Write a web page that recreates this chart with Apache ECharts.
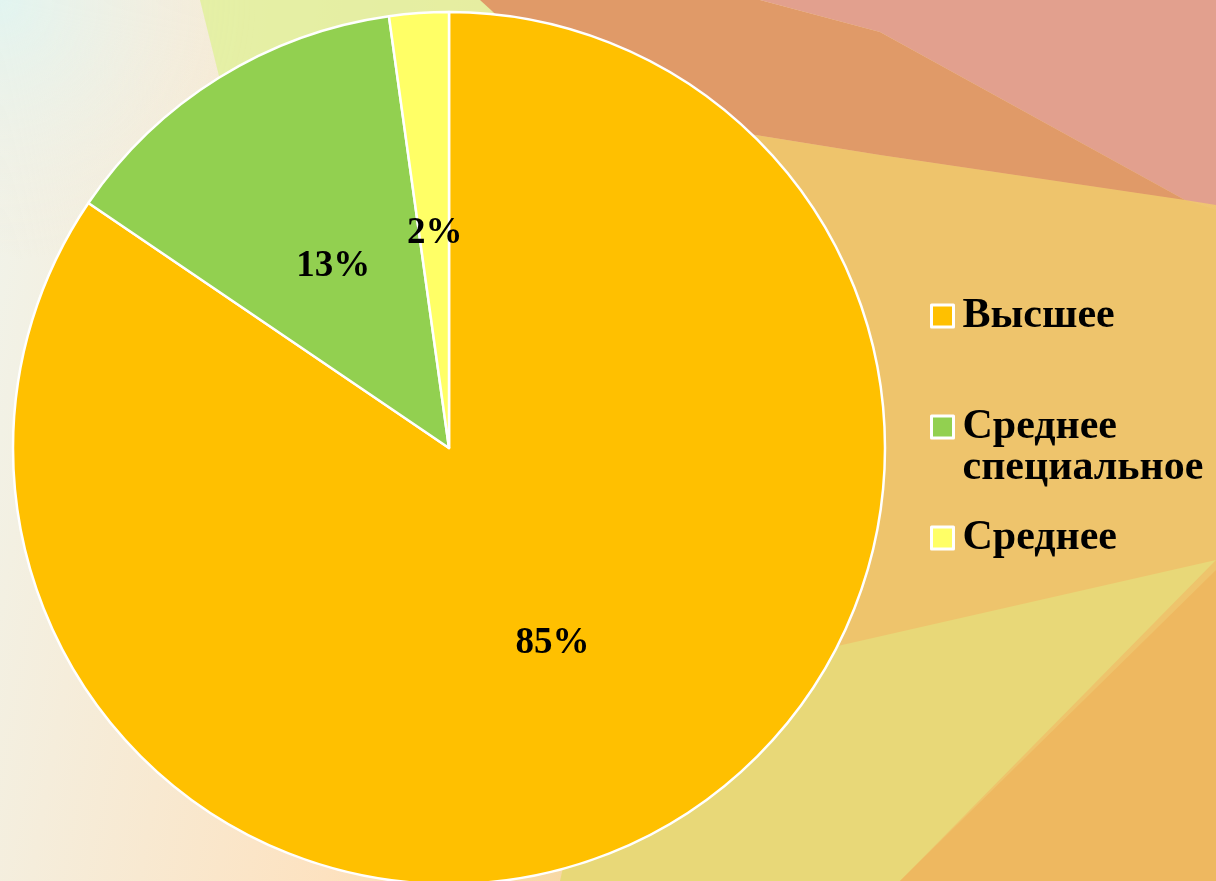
<!DOCTYPE html>
<html>
<head>
<meta charset="utf-8">
<script src="https://cdn.jsdelivr.net/npm/echarts@6/dist/echarts.min.js"></script>
<style>
  html, body { margin: 0; padding: 0; }
  body {
    width: 1216px; height: 881px; overflow: hidden;
    background: linear-gradient(100deg, #f0f4ec 0%, #fde2c0 35%, #f2cf88 70%, #eec068 100%);
  }
  #chart { width: 1216px; height: 881px; }
</style>
</head>
<body>
<div id="chart"></div>
<script>
// уровень образования
var categories = ["Высшее", "Среднее специальное", "Среднее"];
var shares = [84.5, 13.3, 2.2];
var slice_colors = ["#FFC000", "#92D050", "#FFFF66"];

var chart = echarts.init(document.getElementById("chart"));

var pie_data = [];
for (var i = 0; i < categories.length; i++) {
    pie_data.push({
        name: categories[i],
        value: shares[i],
        itemStyle: { color: slice_colors[i] },
        //small slices: labels sit a little lower in the original
        label: { offset: i > 0 ? [1, 6] : [0, 0] }
    });
}

var option = {
    animation: false,
    backgroundColor: "transparent",
    //background shapes of the slide
    graphic: [
        { type: "rect", z: -10, shape: { x: 0, y: 0, width: 420, height: 260 },
          style: { fill: new echarts.graphic.RadialGradient(0, 0, 1, [
              { offset: 0, color: "rgba(225,244,240,1)" },
              { offset: 1, color: "rgba(245,236,220,0)" }]) } },
        { type: "polygon", z: -9, shape: { points: [[200, 0], [560, 0], [470, 60], [230, 120]] },
          style: { fill: "#e0f098", opacity: 0.8 } },
        { type: "polygon", z: -9, shape: { points: [[600, 110], [880, 155], [1185, 200], [1216, 210], [1216, 881], [600, 881]] },
          style: { fill: "#eec46c" } },
        { type: "polygon", z: -8, shape: { points: [[480, 0], [760, 0], [880, 32], [1185, 200], [880, 155], [600, 110]] },
          style: { fill: "#e09a68" } },
        { type: "polygon", z: -7, shape: { points: [[760, 0], [1216, 0], [1216, 205], [1185, 200], [880, 32]] },
          style: { fill: "#e2a08e" } },
        { type: "polygon", z: -7, shape: { points: [[600, 700], [1216, 560], [900, 881], [560, 881]] },
          style: { fill: "#e8d878" } },
        { type: "polygon", z: -6, shape: { points: [[1216, 570], [1216, 881], [900, 881]] },
          style: { fill: "#eeb860" } }
    ],
    legend: {
        orient: "vertical",
        left: 925,
        top: 290,
        itemGap: 28,
        itemWidth: 22,
        itemHeight: 22,
        icon: "rect",
        selectedMode: false,
        itemStyle: { borderColor: "#ffffff", borderWidth: 3 },
        //the two-line item gets a blank first line so its icon sits on "Среднее"
        formatter: function (name) {
            return name.indexOf(" ") > -1 ? "\n" + name.replace(" ", "\n") : name;
        },
        textStyle: {
            fontFamily: "Liberation Serif",
            fontWeight: "bold",
            fontSize: 42,
            lineHeight: 41,
            color: "#000",
            padding: [0, 0, 0, 4]
        },
        data: categories
    },
    series: [{
        type: "pie",
        center: [449, 448],
        radius: 436,
        startAngle: 90,
        clockwise: true,
        silent: true,
        itemStyle: { borderColor: "#ffffff", borderWidth: 2.5 },
        label: {
            show: true,
            position: "inside",
            formatter: function (p) {
                return Math.round(p.percent) + "%";
            },
            fontFamily: "Liberation Serif",
            fontWeight: "bold",
            fontSize: 37,
            color: "#000"
        },
        labelLine: { show: false },
        data: pie_data
    }]
};
chart.setOption(option, true);
</script>
</body>
</html>
